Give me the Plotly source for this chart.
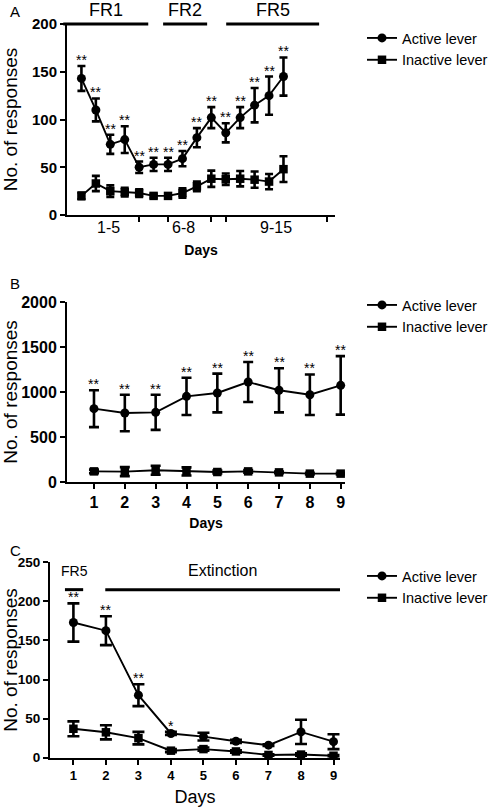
import plotly.graph_objects as go

FONT = "Liberation Sans, Arial, sans-serif"

# ---------------- Data ----------------
# Panel A
A_days = list(range(1, 16))
A_active = [143, 110, 74, 79, 50, 53, 53, 59, 81, 102, 86, 102, 115, 125, 145]
A_active_sem = [13, 12, 10, 14, 6, 7, 7, 8, 10, 11, 10, 11, 18, 20, 20]
A_inactive = [20, 33, 25, 24, 23, 20, 20, 23, 30, 38, 37.5, 38, 37, 35, 48]
A_inactive_sem = [3.5, 8, 6, 4.5, 4, 2, 2, 5, 5, 8.5, 6, 8, 8.5, 8, 13.5]
A_stars = ["**"] * 15
A_tick_marks = [5, 7, 10, 11, 18]
A_group_labels = ["1-5", "6-8", "9-15"]
A_group_label_pos = [2.9, 8.1, 14.5]
A_phases = ["FR1", "FR2", "FR5"]
A_phase_start = [-0.26, 6.66, 11.03]
A_phase_end = [5.63, 9.71, 17.47]
A_phase_level = 200

# Panel B
B_days = list(range(1, 10))
B_active = [815, 767, 774, 952, 989, 1111, 1019, 970, 1074]
B_active_sem = [205, 203, 195, 207, 215, 222, 245, 225, 325]
B_inactive = [118, 115, 130, 118, 111, 118, 107, 93, 93]
B_inactive_sem = [20, 50, 50, 45, 15, 15, 10, 10, 10]
B_stars = ["**"] * 9

# Panel C
C_days = list(range(1, 10))
C_active = [173, 162.5, 80, 31, 27, 21, 16, 33, 20.5]
C_active_sem = [24.5, 18.5, 14, 2, 5, 2, 1, 15.5, 9.5]
C_inactive = [37, 32.5, 25, 9, 11, 8, 3.5, 4, 2.5]
C_inactive_sem = [9.5, 9, 8, 2, 2, 1.5, 1, 1.5, 1]
C_stars = ["**", "**", "**", "*", "", "", "", "", ""]
C_phases = ["FR5", "Extinction"]
C_phase_start = [0.74, 1.98]
C_phase_end = [1.3, 9.2]
C_phase_level = 215
C_phase_label_pos = [1.02, 5.58]

# ---------------- Layout geometry ----------------
A_xr = [0.0, 18.57]
A_yr = [0, 200]
B_xr = [0.125, 9.14]
B_yr = [0, 2000]
C_xr = [0.28, 9.2]
C_yr = [0, 250]

W, H = 502, 812


def dom_x(px0, px1):
    return [px0 / W, px1 / W]


def dom_y(py_bottom, py_top):
    return [1 - py_bottom / H, 1 - py_top / H]


fig = go.Figure()


def add_panel(xa, ya, leg, days, act, act_sem, inact, inact_sem, cap):
    fig.add_trace(go.Scatter(
        x=days, y=act, name="Active lever", mode="lines+markers",
        xaxis=xa, yaxis=ya, legend=leg, cliponaxis=False,
        line=dict(color="black", width=1.9),
        marker=dict(symbol="circle", size=9, color="black"),
        error_y=dict(type="data", array=act_sem, color="black", thickness=2.6, width=cap),
    ))
    fig.add_trace(go.Scatter(
        x=days, y=inact, name="Inactive lever", mode="lines+markers",
        xaxis=xa, yaxis=ya, legend=leg, cliponaxis=False,
        line=dict(color="black", width=1.9),
        marker=dict(symbol="square", size=8.5, color="black"),
        error_y=dict(type="data", array=inact_sem, color="black", thickness=2.6, width=cap),
    ))


add_panel("x", "y", "legend", A_days, A_active, A_active_sem, A_inactive, A_inactive_sem, 4)
add_panel("x2", "y2", "legend2", B_days, B_active, B_active_sem, B_inactive, B_inactive_sem, 5)
add_panel("x3", "y3", "legend3", C_days, C_active, C_active_sem, C_inactive, C_inactive_sem, 6)

base_axis = dict(showline=True, linecolor="black", linewidth=2, ticks="outside",
                 ticklen=5, tickwidth=2, tickcolor="black", showgrid=False,
                 zeroline=False, fixedrange=True, automargin=False)

annotations = []
shapes = []

fig.update_layout(
    xaxis=dict(base_axis, domain=dom_x(67, 335), range=A_xr, anchor="y",
               tickvals=A_tick_marks, showticklabels=False,
               title=dict(text="Days", font=dict(family=FONT, size=14, color="black", weight="bold"),
                          standoff=24)),
    yaxis=dict(base_axis, domain=dom_y(215, 24), range=A_yr, anchor="x",
               tickvals=[0, 50, 100, 150, 200],
               tickfont=dict(family=FONT, size=15, color="black", weight="bold"),
               title=dict(text="No. of responses", font=dict(family=FONT, size=19, color="black"),
                          standoff=14)),
    xaxis2=dict(base_axis, domain=dom_x(67, 345), range=B_xr, anchor="y2",
                tickvals=B_days,
                tickfont=dict(family=FONT, size=16, color="black", weight="bold"),
                title=dict(text="Days", font=dict(family=FONT, size=14, color="black", weight="bold"),
                           standoff=8)),
    yaxis2=dict(base_axis, domain=dom_y(482, 302), range=B_yr, anchor="x2",
                tickvals=[0, 500, 1000, 1500, 2000],
                tickfont=dict(family=FONT, size=16, color="black", weight="bold"),
                title=dict(text="No. of responses", font=dict(family=FONT, size=19, color="black"),
                           standoff=9)),
    xaxis3=dict(base_axis, domain=dom_x(50, 340), range=C_xr, anchor="y3",
                tickvals=C_days,
                tickfont=dict(family=FONT, size=13, color="black", weight="bold"),
                title=dict(text="Days", font=dict(family=FONT, size=18, color="black"),
                           standoff=8)),
    yaxis3=dict(base_axis, domain=dom_y(757.7, 562.3), range=C_yr, anchor="x3",
                tickvals=[0, 50, 100, 150, 200, 250],
                tickfont=dict(family=FONT, size=13.5, color="black", weight="bold"),
                title=dict(text="No. of responses", font=dict(family=FONT, size=19, color="black"),
                           standoff=6)),
)


def frac(v, rng):
    return (v - rng[0]) / (rng[1] - rng[0])


# Group labels on panel A x axis
for lab, pos in zip(A_group_labels, A_group_label_pos):
    annotations.append(dict(xref="x", yref="y domain", x=pos, y=0, yanchor="top",
                            yshift=-2, showarrow=False, text=lab,
                            font=dict(family=FONT, size=16, color="black")))

# Phase bars, panel A
for name, s, e in zip(A_phases, A_phase_start, A_phase_end):
    shapes.append(dict(type="line", xref="x domain", yref="y domain",
                       x0=frac(s, A_xr), x1=frac(e, A_xr),
                       y0=frac(A_phase_level, A_yr), y1=frac(A_phase_level, A_yr),
                       line=dict(color="black", width=3)))
    annotations.append(dict(xref="x", yref="y", x=(s + e) / 2, y=A_phase_level,
                            yanchor="middle", yshift=14, showarrow=False, text=name,
                            font=dict(family=FONT, size=18, color="black")))

# Phase bars, panel C
for name, s, e, lp in zip(C_phases, C_phase_start, C_phase_end, C_phase_label_pos):
    shapes.append(dict(type="line", xref="x3 domain", yref="y3 domain",
                       x0=frac(s, C_xr), x1=frac(e, C_xr),
                       y0=frac(C_phase_level, C_yr), y1=frac(C_phase_level, C_yr),
                       line=dict(color="black", width=3)))
    annotations.append(dict(xref="x3", yref="y3", x=lp, y=C_phase_level,
                            yanchor="bottom", yshift=9, showarrow=False, text=name,
                            font=dict(family=FONT, size=14 if name == "FR5" else 16, color="black")))

# Significance stars
for xa, ya, days, vals, sem, stars in [
    ("x", "y", A_days, A_active, A_active_sem, A_stars),
    ("x2", "y2", B_days, B_active, B_active_sem, B_stars),
    ("x3", "y3", C_days, C_active, C_active_sem, C_stars),
]:
    for d, v, s, t in zip(days, vals, sem, stars):
        if t:
            annotations.append(dict(xref=xa, yref=ya, x=d, y=v + s, yanchor="middle",
                                    yshift=6, showarrow=False, text=t,
                                    font=dict(family=FONT, size=14, color="black")))

# Panel letters
for letter, py in [("A", 12), ("B", 283), ("C", 550)]:
    annotations.append(dict(xref="paper", yref="paper", x=15 / W, y=1 - py / H,
                            xanchor="center", yanchor="middle", showarrow=False, text=letter,
                            font=dict(family=FONT, size=15, color="black")))

legend_style = dict(font=dict(family=FONT, size=14.5, color="black"), bgcolor="rgba(0,0,0,0)",
                    xanchor="left", yanchor="top", tracegroupgap=0, itemwidth=30)

fig.update_layout(
    template="none",
    width=W, height=H, margin=dict(l=0, r=0, t=0, b=0, pad=0, autoexpand=False),
    paper_bgcolor="white", plot_bgcolor="white",
    font=dict(family=FONT, color="black"),
    showlegend=True,
    legend=dict(legend_style, x=362 / W, y=1 - 22 / H),
    legend2=dict(legend_style, x=362 / W, y=1 - 289 / H),
    legend3=dict(legend_style, x=362 / W, y=1 - 560 / H),
    annotations=annotations,
    shapes=shapes,
)

fig.write_html("out.html", config={"displayModeBar": False},
               post_script="document.body.style.margin='0px';")
